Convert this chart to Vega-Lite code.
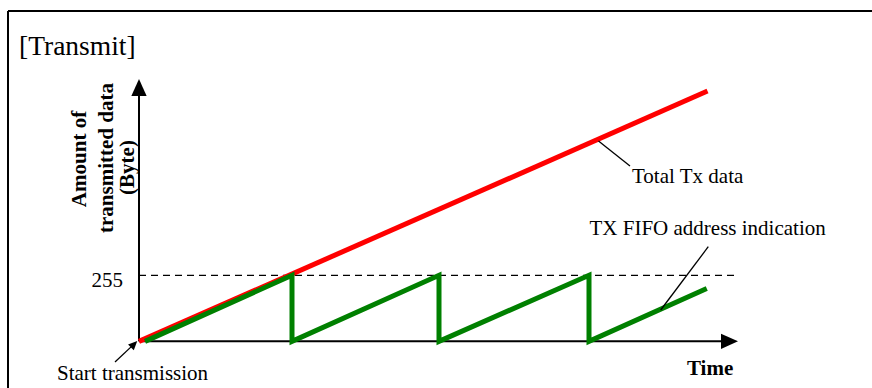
{
  "$schema": "https://vega.github.io/schema/vega-lite/v6.json",
  "width": 864,
  "height": 377,
  "autosize": {"type": "none"},
  "padding": {"left": 8, "top": 11, "right": 0, "bottom": 0},
  "background": "white",
  "config": {"view": {"stroke": null}, "font": "Liberation Serif"},
  "data": {"values": [{}]},
  "datasets": {
    "total": [{"time": 0, "bytes": 0}, {"time": 3.79, "bytes": 966}],
    "fifo": [
      {"time": 0.04, "bytes": 0},
      {"time": 1.02, "bytes": 255},
      {"time": 1.02, "bytes": 0},
      {"time": 2.0, "bytes": 255},
      {"time": 2.0, "bytes": 0},
      {"time": 3.0, "bytes": 255},
      {"time": 3.0, "bytes": 0},
      {"time": 3.785, "bytes": 204}
    ],
    "axes": [
      {"time": 0, "bytes": 0, "time2": 0, "bytes2": 975},
      {"time": 0, "bytes": 0, "time2": 3.93, "bytes2": 0}
    ],
    "threshold": [{"time": 0, "bytes": 255, "time2": 3.98}],
    "leaders": [
      {"time": 3.0633, "bytes": 773.3, "time2": 3.2733, "bytes2": 676.8},
      {"time": 3.7953, "bytes": 365.3, "time2": 3.478, "bytes2": 121},
      {"time": -0.16, "bytes": -79.7, "time2": -0.0333, "bytes2": -10.7}
    ],
    "labels": [
      {"label": "Start transmission", "time": -0.5467, "bytes": -149},
      {"label": "Total Tx data", "time": 3.2867, "bytes": 611},
      {"label": "TX FIFO address indication", "time": 3.0033, "bytes": 410.5}
    ],
    "ytitle": [
      {"label": "Amount of", "time": -0.3533, "bytes": 703.8},
      {"label": "transmitted data", "time": -0.1733, "bytes": 707.7},
      {"label": "(Byte)", "time": -0.03, "bytes": 671}
    ]
  },
  "layer": [
    {
      "mark": {"type": "rule", "color": "black", "strokeWidth": 2},
      "encoding": {
        "x": {"datum": -0.873333, "type": "quantitative", "scale": {"domain": [-0.873333, 4.886667], "nice": false, "zero": false}, "axis": null}
      }
    },
    {
      "mark": {"type": "rule", "color": "black", "strokeWidth": 2},
      "encoding": {
        "y": {"datum": 1275, "type": "quantitative", "scale": {"domain": [-180, 1275], "nice": false, "zero": false}, "axis": null}
      }
    },
    {
      "data": {"name": "axes"},
      "mark": {"type": "rule", "color": "black", "strokeWidth": 2},
      "encoding": {
        "x": {"field": "time", "type": "quantitative", "scale": {"domain": [-0.873333, 4.886667], "nice": false, "zero": false}, "axis": null},
        "x2": {"field": "time2"},
        "y": {"field": "bytes", "type": "quantitative", "scale": {"domain": [-180, 1275], "nice": false, "zero": false}, "axis": null},
        "y2": {"field": "bytes2"}
      }
    },
    {
      "data": {"name": "threshold"},
      "mark": {"type": "rule", "color": "black", "strokeWidth": 1.3, "strokeDash": [7, 5]},
      "encoding": {
        "x": {"field": "time", "type": "quantitative", "scale": {"domain": [-0.873333, 4.886667], "nice": false, "zero": false}, "axis": null},
        "x2": {"field": "time2"},
        "y": {"field": "bytes", "type": "quantitative", "scale": {"domain": [-180, 1275], "nice": false, "zero": false}, "axis": null}
      }
    },
    {
      "data": {"name": "total"},
      "mark": {"type": "line", "color": "#ff0000", "strokeWidth": 5},
      "encoding": {
        "x": {"field": "time", "type": "quantitative", "scale": {"domain": [-0.873333, 4.886667], "nice": false, "zero": false}, "axis": null},
        "y": {"field": "bytes", "type": "quantitative", "scale": {"domain": [-180, 1275], "nice": false, "zero": false}, "axis": null}
      }
    },
    {
      "data": {"name": "fifo"},
      "mark": {"type": "line", "color": "#008000", "strokeWidth": 5, "strokeJoin": "miter"},
      "encoding": {
        "x": {"field": "time", "type": "quantitative", "scale": {"domain": [-0.873333, 4.886667], "nice": false, "zero": false}, "axis": null},
        "y": {"field": "bytes", "type": "quantitative", "scale": {"domain": [-180, 1275], "nice": false, "zero": false}, "axis": null},
        "order": {"value": null}
      }
    },
    {
      "data": {"name": "leaders"},
      "mark": {"type": "rule", "color": "black", "strokeWidth": 1.3},
      "encoding": {
        "x": {"field": "time", "type": "quantitative", "scale": {"domain": [-0.873333, 4.886667], "nice": false, "zero": false}, "axis": null},
        "x2": {"field": "time2"},
        "y": {"field": "bytes", "type": "quantitative", "scale": {"domain": [-180, 1275], "nice": false, "zero": false}, "axis": null},
        "y2": {"field": "bytes2"}
      }
    },
    {
      "mark": {"type": "point", "shape": "M0,-1L0.9,1L-0.9,1Z", "filled": true, "opacity": 1, "color": "black", "size": 289, "angle": 0, "strokeWidth": 0},
      "encoding": {
        "x": {"datum": 0, "type": "quantitative", "scale": {"domain": [-0.873333, 4.886667], "nice": false, "zero": false}, "axis": null},
        "y": {"datum": 979.8, "type": "quantitative", "scale": {"domain": [-180, 1275], "nice": false, "zero": false}, "axis": null}
      }
    },
    {
      "mark": {"type": "point", "shape": "M0,-1L0.9,1L-0.9,1Z", "filled": true, "opacity": 1, "color": "black", "size": 289, "angle": 90, "strokeWidth": 0},
      "encoding": {
        "x": {"datum": 3.9367, "type": "quantitative", "scale": {"domain": [-0.873333, 4.886667], "nice": false, "zero": false}, "axis": null},
        "y": {"datum": 0, "type": "quantitative", "scale": {"domain": [-180, 1275], "nice": false, "zero": false}, "axis": null}
      }
    },
    {
      "mark": {"type": "point", "shape": "M0,-1L0.9,1L-0.9,1Z", "filled": true, "opacity": 1, "color": "black", "size": 81, "angle": 45, "strokeWidth": 0},
      "encoding": {
        "x": {"datum": -0.0327, "type": "quantitative", "scale": {"domain": [-0.873333, 4.886667], "nice": false, "zero": false}, "axis": null},
        "y": {"datum": -11, "type": "quantitative", "scale": {"domain": [-180, 1275], "nice": false, "zero": false}, "axis": null}
      }
    },
    {
      "data": {"name": "labels"},
      "mark": {"type": "text", "align": "left", "baseline": "alphabetic", "fontSize": 21, "font": "Liberation Serif", "color": "black"},
      "encoding": {
        "x": {"field": "time", "type": "quantitative", "scale": {"domain": [-0.873333, 4.886667], "nice": false, "zero": false}, "axis": null},
        "y": {"field": "bytes", "type": "quantitative", "scale": {"domain": [-180, 1275], "nice": false, "zero": false}, "axis": null},
        "text": {"field": "label"}
      }
    },
    {
      "mark": {"type": "text", "align": "left", "baseline": "alphabetic", "fontSize": 27.5, "font": "Liberation Serif", "color": "black", "text": "[Transmit]"},
      "encoding": {
        "x": {"datum": -0.8, "type": "quantitative", "scale": {"domain": [-0.873333, 4.886667], "nice": false, "zero": false}, "axis": null},
        "y": {"datum": 1105, "type": "quantitative", "scale": {"domain": [-180, 1275], "nice": false, "zero": false}, "axis": null}
      }
    },
    {
      "mark": {"type": "text", "align": "right", "baseline": "alphabetic", "fontSize": 21, "font": "Liberation Serif", "color": "black", "text": "255"},
      "encoding": {
        "x": {"datum": -0.1067, "type": "quantitative", "scale": {"domain": [-0.873333, 4.886667], "nice": false, "zero": false}, "axis": null},
        "y": {"datum": 209.8, "type": "quantitative", "scale": {"domain": [-180, 1275], "nice": false, "zero": false}, "axis": null}
      }
    },
    {
      "mark": {"type": "text", "align": "left", "baseline": "alphabetic", "fontSize": 21, "fontWeight": "bold", "font": "Liberation Serif", "color": "black", "text": "Time"},
      "encoding": {
        "x": {"datum": 3.6533, "type": "quantitative", "scale": {"domain": [-0.873333, 4.886667], "nice": false, "zero": false}, "axis": null},
        "y": {"datum": -129.8, "type": "quantitative", "scale": {"domain": [-180, 1275], "nice": false, "zero": false}, "axis": null}
      }
    },
    {
      "data": {"name": "ytitle"},
      "mark": {"type": "text", "align": "center", "baseline": "alphabetic", "angle": 270, "fontSize": 21, "fontWeight": "bold", "font": "Liberation Serif", "color": "black"},
      "encoding": {
        "x": {"field": "time", "type": "quantitative", "scale": {"domain": [-0.873333, 4.886667], "nice": false, "zero": false}, "axis": null},
        "y": {"field": "bytes", "type": "quantitative", "scale": {"domain": [-180, 1275], "nice": false, "zero": false}, "axis": null},
        "text": {"field": "label"}
      }
    }
  ]
}
